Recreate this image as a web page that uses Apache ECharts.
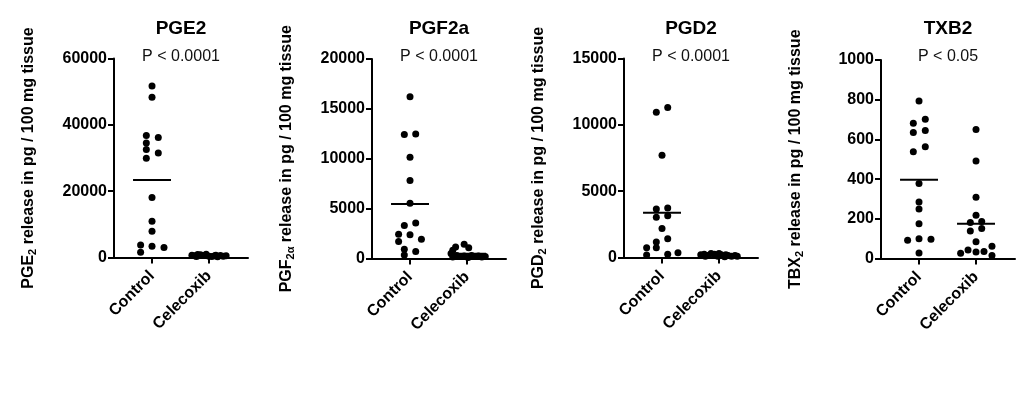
<!DOCTYPE html>
<html>
<head>
<meta charset="utf-8">
<script src="https://cdn.jsdelivr.net/npm/echarts@6/dist/echarts.min.js"></script>
<style>
  html, body { margin: 0; background: #fff; }
  #chart { width: 1024px; height: 397px; }
</style>
</head>
<body>
<div id="chart"></div>
<script>
let groups = ['Control', 'Celecoxib']
let panelTitles = ['PGE2', 'PGF2a', 'PGD2', 'TXB2']
let pValues = ['P < 0.0001', 'P < 0.0001', 'P < 0.0001', 'P < 0.05']
let yMaxes = [60000, 20000, 15000, 1000]
let yIntervals = [20000, 5000, 5000, 200]
let yNames = [
  '{m|PGE}{s|2}{m| release in pg / 100 mg tissue}',
  '{m|PGF}{s|2α}{m| release in pg / 100 mg tissue}',
  '{m|PGD}{s|2}{m| release in pg / 100 mg tissue}',
  '{m|TBX}{s|2}{m| release in pg / 100 mg tissue}'
]

// values; jitter is the sideways offset in group widths
let pge2Control = [51700, 48300, 36800, 36200, 34500, 32600, 31500, 29900, 18100, 10900, 7900, 3800, 1600, 3400, 3000]
let pge2ControlJitter = [0, 0, -0.1, 0.11, -0.1, -0.1, 0.11, -0.1, 0, 0, 0, -0.2, -0.2, 0, 0.21]
let pge2Celecoxib = [700, 500, 900, 800, 600, 1000, 400, 300, 500, 200, 600, 400, 500, 300, 700]
let pge2CelecoxibJitter = [-0.3, -0.25, -0.2, -0.15, -0.1, -0.05, 0, 0.05, 0.1, 0.15, 0.2, 0.25, 0.3, -0.22, 0.12]

let pgf2aControl = [16220, 12440, 12470, 10140, 7830, 5550, 3310, 3570, 2440, 2370, 1940, 1700, 930, 700, 360]
let pgf2aControlJitter = [0, -0.1, 0.1, 0, 0, 0, -0.1, 0.1, -0.2, 0, 0.2, -0.2, -0.1, 0.1, -0.1]
let pgf2aCelecoxib = [1160, 1430, 1070, 830, 500, 150, 300, 200, 250, 100, 300, 200, 250, 150, 200]
let pgf2aCelecoxibJitter = [-0.2, -0.05, 0.03, -0.25, -0.28, -0.25, -0.18, -0.12, -0.05, 0.02, 0.08, 0.14, 0.2, 0.26, 0.32]

let pgd2Control = [10950, 11310, 7710, 3660, 3740, 3040, 3140, 2190, 1170, 1420, 730, 730, 180, 240, 350]
let pgd2ControlJitter = [-0.1, 0.1, 0, -0.1, 0.1, -0.1, 0.1, 0, -0.1, 0.1, -0.27, -0.1, -0.27, 0.1, 0.28]
let pgd2Celecoxib = [200, 250, 150, 300, 250, 100, 200, 50, 150, 100, 150, 100, 100, 300, 200]
let pgd2CelecoxibJitter = [-0.32, -0.26, -0.2, -0.14, -0.08, -0.02, 0.04, 0.1, 0.16, 0.22, 0.28, 0.32, -0.24, 0, 0.12]

let txb2Control = [793, 681, 702, 635, 645, 538, 563, 378, 285, 249, 175, 92, 99, 97, 28]
let txb2ControlJitter = [0, -0.1, 0.11, -0.1, 0.11, -0.1, 0.11, 0, 0, 0, 0, -0.2, 0, 0.21, 0]
let txb2Celecoxib = [650, 491, 309, 218, 181, 187, 139, 151, 84, 62, 27, 43, 33, 35, 15]
let txb2CelecoxibJitter = [0, 0, 0, 0, -0.1, 0.1, -0.1, 0.1, 0, 0.28, -0.27, -0.14, 0, 0.14, 0.28]

let panels = [
  [[pge2Control, pge2ControlJitter], [pge2Celecoxib, pge2CelecoxibJitter]],
  [[pgf2aControl, pgf2aControlJitter], [pgf2aCelecoxib, pgf2aCelecoxibJitter]],
  [[pgd2Control, pgd2ControlJitter], [pgd2Celecoxib, pgd2CelecoxibJitter]],
  [[txb2Control, txb2ControlJitter], [txb2Celecoxib, txb2CelecoxibJitter]]
]

// layout
let gridLefts = [114, 372, 624, 881]
let gridTops = [58.5, 59, 58.5, 60]
let gridBottoms = [257.5, 258.5, 257.5, 258.5]
let gridWidth = 134

function mean(arr) {
  return arr.reduce((a, b) => a + b, 0) / arr.length
}

let chart = echarts.init(document.getElementById('chart'))
let grid = [], xAxis = [], yAxis = [], series = [], title = []

panels.forEach(function (panel, p) {
  grid.push({
    left: gridLefts[p],
    top: gridTops[p],
    width: gridWidth,
    height: gridBottoms[p] - gridTops[p]
  })
  title.push({
    text: panelTitles[p],
    left: gridLefts[p] + gridWidth / 2,
    top: 19,
    padding: 0,
    textAlign: 'center',
    textStyle: {fontFamily: 'Liberation Sans', fontSize: 19, fontWeight: 'bold', color: '#000'}
  })
  title.push({
    text: pValues[p],
    left: gridLefts[p] + gridWidth / 2,
    top: 49,
    padding: 0,
    textAlign: 'center',
    textStyle: {fontFamily: 'Liberation Sans', fontSize: 16, fontWeight: 'normal', color: '#111'}
  })
  xAxis.push({
    type: 'value',
    gridIndex: p,
    min: -0.667,
    max: 1.684,
    splitLine: {show: false},
    axisLine: {onZero: false, lineStyle: {color: '#000', width: 2}},
    axisTick: {customValues: [0, 1], length: 6, lineStyle: {color: '#000', width: 2}},
    axisLabel: {
      customValues: [0, 1],
      formatter: function (v) { return groups[Math.round(v)] },
      rotate: 45,
      margin: 16,
      color: '#000',
      fontFamily: 'Liberation Sans',
      fontSize: 16,
      fontWeight: 'bold'
    }
  })
  yAxis.push({
    type: 'value',
    gridIndex: p,
    min: 0,
    max: yMaxes[p],
    interval: yIntervals[p],
    splitLine: {show: false},
    axisLine: {show: true, onZero: false, lineStyle: {color: '#000', width: 2}},
    axisTick: {show: true, length: 6, lineStyle: {color: '#000', width: 2}},
    axisLabel: {
      formatter: function (v) { return String(v) },
      margin: 7,
      color: '#000',
      fontFamily: 'Liberation Sans',
      fontSize: 16,
      fontWeight: 'bold'
    },
    name: yNames[p],
    nameLocation: 'middle',
    nameGap: 76,
    nameTextStyle: {
      rich: {
        m: {fontFamily: 'Liberation Sans', fontSize: 16, fontWeight: 'bold', color: '#000', lineHeight: 18},
        s: {fontFamily: 'Liberation Sans', fontSize: 11, fontWeight: 'bold', color: '#000', lineHeight: 11, verticalAlign: 'bottom'}
      }
    }
  })
  panel.forEach(function (g, i) {
    let values = g[0], jitter = g[1]
    series.push({
      type: 'scatter',
      xAxisIndex: p,
      yAxisIndex: p,
      symbolSize: 7,
      itemStyle: {color: '#000', opacity: 1},
      data: values.map(function (v, k) { return [i + jitter[k], v] })
    })
    let m = mean(values)
    series.push({
      type: 'line',
      xAxisIndex: p,
      yAxisIndex: p,
      symbol: 'none',
      lineStyle: {color: '#000', width: 2},
      data: [[i - 0.333, m], [i + 0.333, m]]
    })
  })
})

chart.setOption({
  backgroundColor: '#fff',
  animation: false,
  title: title,
  grid: grid,
  xAxis: xAxis,
  yAxis: yAxis,
  series: series
})
</script>
</body>
</html>
